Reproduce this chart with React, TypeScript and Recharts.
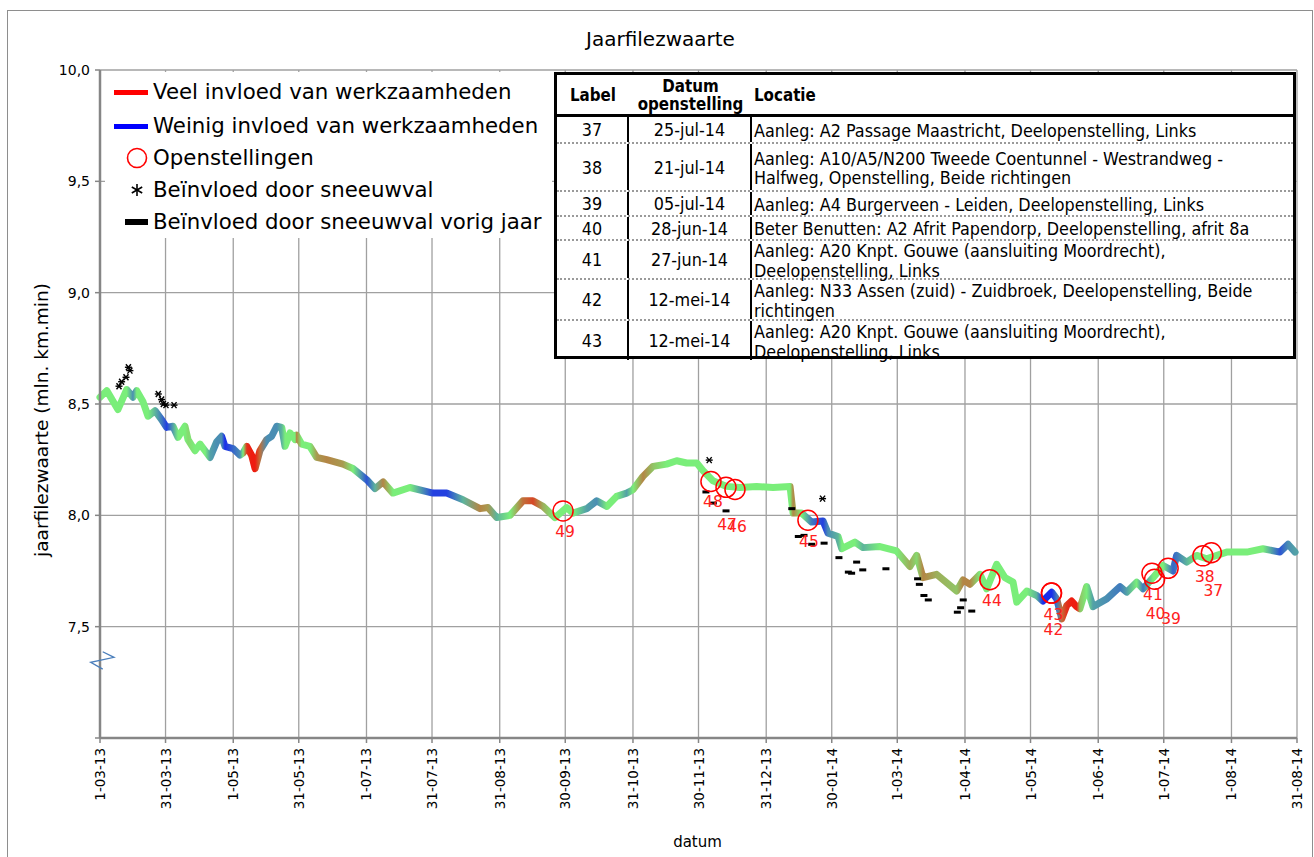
import React from "react";
import {
  ComposedChart,
  Line,
  Scatter,
  XAxis,
  YAxis,
  CartesianGrid,
  ReferenceDot,
} from "recharts";

const FONT = "'DejaVu Sans', Verdana, sans-serif";
const TABEL_FONT = "'DejaVu Sans Condensed', 'DejaVu Sans', Verdana, sans-serif";

// x-as: dagen sinds 1-03-13
const tickDagen = [0, 30, 61, 91, 122, 152, 183, 213, 244, 274, 305, 335, 365, 396, 426, 457, 487, 518, 548];
const tickLabels = [
  "1-03-13", "31-03-13", "1-05-13", "31-05-13", "1-07-13", "31-07-13", "31-08-13",
  "30-09-13", "31-10-13", "30-11-13", "31-12-13", "30-01-14", "1-03-14", "1-04-14",
  "1-05-14", "1-06-14", "1-07-14", "1-08-14", "31-08-14",
];
const yTicks = [7, 7.5, 8, 8.5, 9, 9.5, 10];

// jaarfilezwaarte
const dagen = [
  0, 3.1, 8.2, 12.2, 15.1, 16.8, 19.7, 22.0, 25.2, 28.2, 30.5, 33.4, 35.7, 38.9, 40.3, 43.5,
  45.8, 48.1, 50.4, 53.4, 55.7, 57.2, 60.9, 64.1, 65.5, 67.2, 69.4, 71.0, 73.2, 76.3, 78.6,
  80.9, 83.2, 84.7, 87.0, 89.3, 90.0, 92.3, 96.1, 99.2, 103.8, 111.2, 115.8, 122.1, 125.9,
  129.6, 134.1, 141.9, 152.4, 158.7, 166.2, 174.0, 177.6, 181.6, 187.7, 193.6, 198.2, 202.8,
  208.3, 213.7, 216.5, 222.8, 227.4, 232.0, 236.5, 241.1, 244.0, 248.6, 253.2, 259.4, 264.0,
  268.6, 273.2, 276.1, 280.6, 286.9, 293.0, 300.6, 308.1, 315.9, 317.3, 321.2, 325.8, 331.0,
  333.3, 337.9, 339.6, 345.6, 349.3, 357.1, 364.7, 370.8, 373.9, 376.8, 383.0, 392.2, 395.1,
  398.3, 402.9, 405.9, 410.5, 414.3, 418.0, 419.7, 424.3, 428.8, 431.7, 435.7, 438.0, 440.3,
  442.6, 444.8, 447.1, 448.6, 451.7, 454.6, 460.9, 467.0, 470.0, 474.6, 477.5, 482.1, 486.7,
  491.2, 492.9, 497.5, 502.1, 506.6, 515.8, 525.0, 532.4, 540.2, 543.9, 547.1,
];
const waarden = [
  8.53, 8.56, 8.475, 8.565, 8.53, 8.56, 8.51, 8.445, 8.47, 8.43, 8.395, 8.4, 8.35, 8.4, 8.34, 8.29,
  8.32, 8.29, 8.26, 8.33, 8.355, 8.31, 8.3, 8.27, 8.28, 8.31, 8.27, 8.21, 8.29, 8.34, 8.355,
  8.4, 8.395, 8.31, 8.37, 8.34, 8.36, 8.32, 8.31, 8.26, 8.25, 8.23, 8.21, 8.16, 8.12,
  8.15, 8.1, 8.125, 8.1, 8.1, 8.07, 8.03, 8.035, 7.99, 8.0, 8.065, 8.065, 8.04,
  7.99, 8.035, 8.01, 8.03, 8.065, 8.04, 8.085, 8.1, 8.115, 8.175, 8.22, 8.23, 8.245,
  8.235, 8.235, 8.2, 8.155, 8.13, 8.125, 8.13, 8.125, 8.13, 8.01, 8.01, 7.97, 7.975,
  7.92, 7.905, 7.85, 7.88, 7.855, 7.86, 7.84, 7.77, 7.82, 7.72, 7.735, 7.66, 7.71,
  7.69, 7.735, 7.67, 7.78, 7.72, 7.7, 7.61, 7.66, 7.64, 7.615, 7.655, 7.625, 7.535,
  7.595, 7.615, 7.59, 7.58, 7.68, 7.59, 7.625, 7.68, 7.655, 7.7, 7.67, 7.72, 7.775,
  7.75, 7.82, 7.79, 7.82, 7.805, 7.835, 7.835, 7.85, 7.835, 7.87, 7.835,
];
// -1 = weinig invloed (blauw), 0 = neutraal (groen), 1 = veel invloed (rood)
const invloed = [
  0, 0, 0, 0, -0.5, 0, 0, 0, -0.3, -0.6, -0.9, -0.4, 0, 0, 0.1, 0,
  0, 0, -0.4, -0.5, -0.5, -1, -0.7, -0.5, 0, 0.9, 1, 1, 0.6, -0.5, -0.5,
  -0.5, -0.3, 0, 0, 0, 0.5, 0, 0, 0.4, 0.5, 0.4, 0, -0.8, -0.3,
  0.5, 0, 0, -0.9, -0.9, -0.3, 0.5, 0.4, -0.3, 0, 0.6, 0.8, 0.3,
  0, 0, 0, -0.4, -0.5, 0, 0, -0.4, 0, 0.5, 0.2, 0, 0,
  0, 0, 0, 0, 0, 0, 0, 0, 0, 0.5, 0, -0.6, -0.9,
  -0.5, -0.3, 0, 0, -0.3, 0, 0, 0.3, 0.1, 0.5, 0.3, 0.2, 0.5,
  0.5, 0, 0, 0, 0, 0, 0, 0, -0.3, -1, -1, -0.6, 0.6,
  0.9, 1, 1, 0.2, 0, -0.4, -0.5, -0.6, -0.4, 0, -0.6, 0, 0,
  -0.7, -0.6, -0.3, 0, 0, 0, 0, 0, -0.8, -0.5, -0.4,
];

// openstellingen
const openLabels = ["49", "48", "47", "46", "45", "44", "43", "42", "41", "40", "39", "38", "37"];
const openDagen = [212, 279.7, 286.6, 290.7, 324.1, 407.4, 435.6, 435.6, 481.6, 482.8, 489, 504.9, 508.8];
const openWaarden = [8.02, 8.152, 8.126, 8.116, 7.978, 7.711, 7.651, 7.651, 7.74, 7.713, 7.762, 7.818, 7.832];

// beïnvloed door sneeuwval
const sneeuwDagen = [8.7, 9.9, 11.9, 13.0, 13.7, 26.7, 28.2, 29.0, 30.2, 33.9, 278.9, 330.8];
const sneeuwWaarden = [8.58, 8.6, 8.62, 8.665, 8.65, 8.545, 8.52, 8.5, 8.495, 8.495, 8.248, 8.075];

// beïnvloed door sneeuwval vorig jaar
const vorigDagen = [
  277.4, 280.8, 286.6, 316.7, 319.7, 322.3, 325.8, 331.5, 338.3, 342.6, 344.1, 346.4,
  349.2, 359.8, 374.3, 375.1, 377.2, 379.2, 392.5, 394.0, 395.2, 399.1,
];
const vorigWaarden = [
  8.105, 8.055, 8.02, 8.03, 7.905, 7.91, 7.87, 7.875, 7.81, 7.745, 7.74, 7.79,
  7.755, 7.76, 7.715, 7.69, 7.64, 7.62, 7.565, 7.585, 7.62, 7.57,
];

// tabel
const tabelLabels = ["37", "38", "39", "40", "41", "42", "43"];
const tabelDatums = ["25-jul-14", "21-jul-14", "05-jul-14", "28-jun-14", "27-jun-14", "12-mei-14", "12-mei-14"];
const tabelLocaties = [
  ["Aanleg: A2 Passage Maastricht, Deelopenstelling, Links"],
  ["Aanleg: A10/A5/N200 Tweede Coentunnel - Westrandweg -", "Halfweg, Openstelling, Beide richtingen"],
  ["Aanleg: A4 Burgerveen - Leiden, Deelopenstelling, Links"],
  ["Beter Benutten: A2 Afrit Papendorp, Deelopenstelling, afrit 8a"],
  ["Aanleg: A20 Knpt. Gouwe (aansluiting Moordrecht),", "Deelopenstelling, Links"],
  ["Aanleg: N33 Assen (zuid) - Zuidbroek, Deelopenstelling, Beide", "richtingen"],
  ["Aanleg: A20 Knpt. Gouwe (aansluiting Moordrecht),", "Deelopenstelling, Links"],
];
const rijHoogtes = [25, 48, 25, 24, 39, 41, 41];

// label offsets (px) ten opzichte van de cirkel
const labelOffset: Record<string, [number, number]> = {
  "49": [2, 20], "48": [2, 20], "47": [1, 37], "46": [2, 36], "45": [1, 21], "44": [2, 20],
  "43": [2, 21], "42": [2, 36], "41": [1, 21], "40": [1, 34], "39": [3, 50], "38": [2, 20], "37": [2, 37],
};

const GROEN = [122, 238, 122];
const BLAUW = [25, 45, 235];
const ROOD = [238, 28, 16];
function kleur(v: number) {
  const t = Math.min(1, Math.abs(v));
  const doel = v < 0 ? BLAUW : ROOD;
  const c = GROEN.map((g, i) => Math.round(g + (doel[i] - g) * t));
  return `rgb(${c.join(",")})`;
}

const lijnData = dagen.map((d, i) => ({ dag: d, waarde: waarden[i] }));
const openData = openLabels.map((l, i) => ({ dag: openDagen[i], waarde: openWaarden[i], label: l }));
const sneeuwData = sneeuwDagen.map((d, i) => ({ dag: d, waarde: sneeuwWaarden[i] }));
const vorigData = vorigDagen.map((d, i) => ({ dag: d, waarde: vorigWaarden[i] }));

const eersteDag = dagen[0];
const laatsteDag = dagen[dagen.length - 1];

const Cirkel = (props: any) => {
  const { cx, cy, payload } = props;
  const [dx, dy] = labelOffset[payload.label] || [0, 20];
  return (
    <g>
      <circle cx={cx} cy={cy} r={10} fill="none" stroke="#ff0000" strokeWidth={1.5} />
      <text x={cx + dx} y={cy + dy + 6} textAnchor="middle" fontSize={15.5} fill="#ff2020" fontFamily={FONT}>
        {payload.label}
      </text>
    </g>
  );
};

const Ster = (props: any) => {
  const { cx, cy } = props;
  return (
    <g stroke="#000" strokeWidth={1.4}>
      <line x1={cx - 3.5} y1={cy} x2={cx + 3.5} y2={cy} />
      <line x1={cx - 2.5} y1={cy - 3} x2={cx + 2.5} y2={cy + 3} />
      <line x1={cx - 2.5} y1={cy + 3} x2={cx + 2.5} y2={cy - 3} />
    </g>
  );
};

const Streep = (props: any) => {
  const { cx, cy } = props;
  return <rect x={cx - 3.5} y={cy - 1.5} width={7} height={3} fill="#000" />;
};

const Breuk = (props: any) => {
  const { cx, cy } = props;
  return (
    <polyline
      points={`${cx + 2.7},${cy - 8.3} ${cx + 14},${cy - 2.7} ${cx - 9.3},${cy + 2.3} ${cx + 2.7},${cy + 9}`}
      fill="none"
      stroke="#4a7ebb"
      strokeWidth={1.3}
    />
  );
};

const XTick = (props: any) => {
  const { x, y, index } = props;
  return (
    <text
      transform={`translate(${x + 5},${y + 3}) rotate(-90)`}
      textAnchor="end"
      fontSize={13.5}
      fill="#000"
      fontFamily={FONT}
    >
      {tickLabels[index]}
    </text>
  );
};

function Legenda() {
  const rij = (top: number, symbool: React.ReactNode, tekst: string) => (
    <div style={{ position: "absolute", left: 0, top: top - 16, height: 32, width: 445 }}>
      <div style={{ position: "absolute", left: 2, top: 0, width: 44, height: 32 }}>{symbool}</div>
      <div style={{ position: "absolute", left: 48, top: 0, lineHeight: "32px", fontSize: 21.3, whiteSpace: "nowrap" }}>
        {tekst}
      </div>
    </div>
  );
  const lijn = (c: string) => (
    <div style={{ position: "absolute", left: 7, top: 14, width: 34, height: 5, background: c }} />
  );
  return (
    <div
      style={{
        position: "absolute", left: 105, top: 72, width: 447, height: 166,
        background: "#fff", fontFamily: FONT, color: "#000",
      }}
    >
      {rij(20, lijn("#ff0000"), "Veel invloed van werkzaamheden")}
      {rij(54, lijn("#0000ff"), "Weinig invloed van werkzaamheden")}
      {rij(86, (
        <svg width={44} height={32}><circle cx={30} cy={16} r={9.5} fill="none" stroke="#ff0000" strokeWidth={1.6} /></svg>
      ), "Openstellingen")}
      {rij(118, (
        <svg width={44} height={32}>
          <g stroke="#000" strokeWidth={1.6}>
            <line x1={30} y1={10} x2={30} y2={22} />
            <line x1={24.8} y1={13} x2={35.2} y2={19} />
            <line x1={24.8} y1={19} x2={35.2} y2={13} />
          </g>
        </svg>
      ), "Beïnvloed door sneeuwval")}
      {rij(150, (
        <div style={{ position: "absolute", left: 18, top: 13, width: 23, height: 6, background: "#000" }} />
      ), "Beïnvloed door sneeuwval vorig jaar")}
    </div>
  );
}

function Tabel() {
  const cel: React.CSSProperties = { boxSizing: "border-box", display: "flex", alignItems: "center" };
  return (
    <div
      style={{
        position: "absolute", left: 554, top: 72, width: 742, height: 287,
        border: "3px solid #000", boxSizing: "border-box", background: "#fff",
        fontFamily: TABEL_FONT, fontStretch: "condensed", fontSize: 17.8, color: "#000",
      }}
    >
      <div style={{ display: "flex", height: 39, borderBottom: "3px solid #000", fontWeight: "bold", fontSize: 16.8 }}>
        <div style={{ ...cel, width: 72, justifyContent: "center" }}>Label</div>
        <div style={{ ...cel, width: 123, justifyContent: "center", textAlign: "center", lineHeight: "18px" }}>
          Datum<br />openstelling
        </div>
        <div style={{ ...cel, flex: 1, paddingLeft: 2 }}>Locatie</div>
      </div>
      {tabelLabels.map((l, i) => (
        <div
          key={l}
          style={{
            display: "flex", height: rijHoogtes[i], boxSizing: "border-box",
            borderTop: i === 0 ? "none" : "2px dotted #9a9a9a",
          }}
        >
          <div style={{ ...cel, width: 72, borderRight: "2px solid #000", justifyContent: "center" }}>{l}</div>
          <div style={{ ...cel, width: 123, borderRight: "2px solid #000", justifyContent: "center" }}>{tabelDatums[i]}</div>
          <div style={{ ...cel, flex: 1, paddingLeft: 2, paddingTop: 2, lineHeight: "19.5px", whiteSpace: "nowrap" }}>
            <div>
              {tabelLocaties[i].map((t, j) => (
                <div key={j}>{t}</div>
              ))}
            </div>
          </div>
        </div>
      ))}
    </div>
  );
}

export default function App() {
  const stops = dagen.map((d, i) => ({
    offset: (d - eersteDag) / (laatsteDag - eersteDag),
    kleur: kleur(invloed[i]),
  }));

  return (
    <div style={{ position: "absolute", left: 0, top: 0, width: 1314, height: 857, overflow: "hidden", background: "#fff" }}>
      <div style={{ position: "absolute", left: 7, top: 10, width: 1306, height: 900, border: "1px solid #8e8e8e", boxSizing: "border-box" }} />
      <div style={{ position: "absolute", left: 0, top: 0 }}>
        <ComposedChart width={1314} height={857} margin={{ top: 70, right: 17, bottom: 39, left: 40 }}>
          <defs>
            <linearGradient id="invloedKleur" x1="0" y1="0" x2="1" y2="0">
              {stops.map((s, i) => (
                <stop key={i} offset={s.offset} stopColor={s.kleur} />
              ))}
            </linearGradient>
          </defs>
          <CartesianGrid stroke="#a0a0a0" strokeWidth={1.3} />
          <XAxis
            type="number"
            dataKey="dag"
            domain={[0, 548]}
            ticks={tickDagen}
            interval={0}
            height={80}
            tick={<XTick />}
            tickSize={5}
            axisLine={{ stroke: "#868686", strokeWidth: 2.5 }}
            tickLine={{ stroke: "#868686", strokeWidth: 1.5 }}
          />
          <YAxis
            type="number"
            dataKey="waarde"
            domain={[7, 10]}
            ticks={yTicks}
            interval={0}
            width={60}
            tickSize={5}
            tickMargin={5}
            tickFormatter={(v: number) => (v === 7 ? "" : v.toFixed(1).replace(".", ","))}
            tick={{ fontSize: 14, fill: "#000", fontFamily: FONT }}
            axisLine={{ stroke: "#868686", strokeWidth: 2.5 }}
            tickLine={{ stroke: "#868686", strokeWidth: 1.5 }}
          />
          <Line
            data={lijnData}
            dataKey="waarde"
            type="linear"
            stroke="url(#invloedKleur)"
            strokeWidth={7}
            strokeLinecap="round"
            strokeLinejoin="round"
            dot={false}
            activeDot={false}
            isAnimationActive={false}
          />
          <Scatter data={vorigData} dataKey="waarde" shape={Streep} isAnimationActive={false} />
          <Scatter data={sneeuwData} dataKey="waarde" shape={Ster} isAnimationActive={false} />
          <Scatter data={openData} dataKey="waarde" shape={Cirkel} isAnimationActive={false} />
          <ReferenceDot x={0} y={7.35} r={0} shape={Breuk} ifOverflow="visible" />
        </ComposedChart>
      </div>
      <svg width={1314} height={857} style={{ position: "absolute", left: 0, top: 0, pointerEvents: "none" }}>
        <text x={660.5} y={46} textAnchor="middle" fontSize={20} fontFamily={FONT} fill="#000">
          Jaarfilezwaarte
        </text>
        <text transform="translate(47.5,420) rotate(-90)" textAnchor="middle" fontSize={18.5} fontFamily={FONT} fill="#000">
          jaarfilezwaarte (mln. km.min)
        </text>
        <text x={697.5} y={847} textAnchor="middle" fontSize={15} fontFamily={FONT} fill="#000">
          datum
        </text>
      </svg>
      <Legenda />
      <Tabel />
    </div>
  );
}
